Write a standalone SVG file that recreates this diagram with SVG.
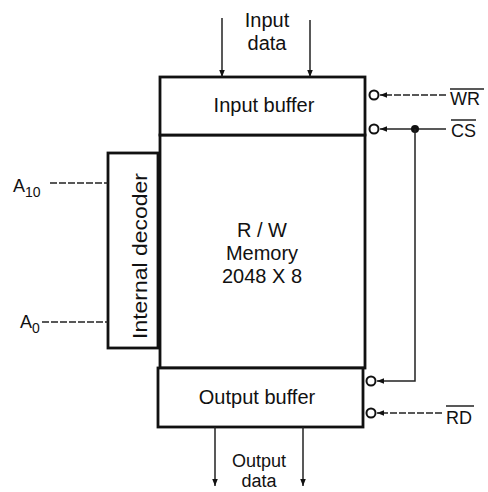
<svg xmlns="http://www.w3.org/2000/svg" width="488" height="492" viewBox="0 0 488 492">
<defs>
<style>
.box{fill:#fff;stroke:#111;stroke-width:2.8}
.ln{stroke:#222;stroke-width:1.5;fill:none}
.ds{stroke:#222;stroke-width:1.5;fill:none;stroke-dasharray:7 2}
.bub{fill:#fff;stroke:#111;stroke-width:2}
text{font-family:"Liberation Sans",Arial,sans-serif;font-size:20px;fill:#111}
.c{text-anchor:middle}
.s{font-size:18px}
</style>
<marker id="ah" viewBox="0 0 10 10" refX="10" refY="5" markerWidth="7" markerHeight="8" markerUnits="userSpaceOnUse" orient="auto">
<path d="M0,1 L10,5 L0,9 Z" fill="#111"/>
</marker>
</defs>
<rect width="488" height="492" fill="#fff"/>
<g id="memory">
<rect class="box" x="160" y="135" width="205" height="233"/>
<text class="c" x="262" y="237">R / W</text>
<text class="c" x="262" y="260">Memory</text>
<text class="c" x="262" y="283">2048 X 8</text>
</g>
<g id="input-buffer">
<rect class="box" x="160" y="77" width="205" height="58"/>
<text class="c" x="264" y="112">Input buffer</text>
</g>
<g id="output-buffer">
<rect class="box" x="158" y="368" width="205" height="59"/>
<text class="c" x="257" y="404">Output buffer</text>
</g>
<g id="decoder">
<rect class="box" x="108" y="153" width="50" height="195"/>
<text class="c" transform="translate(147,256) rotate(-90)" textLength="166" lengthAdjust="spacingAndGlyphs">Internal decoder</text>
</g>
<g id="labels">
<text class="c" x="267" y="27">Input</text>
<text class="c" x="267" y="50">data</text>
<text class="c s" x="259" y="467">Output</text>
<text class="c s" x="259" y="487">data</text>
<text class="s" x="13" y="192">A<tspan font-size="14" dy="5">10</tspan></text>
<text class="s" x="20" y="328">A<tspan font-size="14" dy="5">0</tspan></text>
<text class="s" x="450" y="105">WR</text>
<line class="ln" x1="450" y1="89" x2="484" y2="89"/>
<text class="s" x="451" y="137">CS</text>
<line class="ln" x1="451" y1="120" x2="476" y2="120"/>
<text class="s" x="446" y="424">RD</text>
<line class="ln" x1="446" y1="406" x2="474" y2="406"/>
</g>
<g id="connectors">
<line class="ln" x1="222" y1="18" x2="222" y2="77" marker-end="url(#ah)"/>
<line class="ln" x1="310" y1="20" x2="310" y2="77" marker-end="url(#ah)"/>
<line class="ln" x1="215" y1="427" x2="215" y2="486" marker-end="url(#ah)"/>
<line class="ln" x1="303" y1="427" x2="303" y2="486" marker-end="url(#ah)"/>
<line class="ds" x1="50" y1="183" x2="108" y2="183"/>
<line class="ds" x1="42" y1="322" x2="108" y2="322"/>
<line class="ds" x1="446" y1="95" x2="380" y2="95" marker-end="url(#ah)"/>
<line class="ln" x1="446" y1="129" x2="380" y2="129" marker-end="url(#ah)"/>
<circle cx="415" cy="129" r="4" fill="#111"/>
<polyline class="ln" points="415,129 415,381 377,381" marker-end="url(#ah)"/>
<line class="ds" x1="442" y1="413" x2="377" y2="413" marker-end="url(#ah)"/>
<circle class="bub" cx="374" cy="95" r="4.5"/>
<circle class="bub" cx="374" cy="129" r="4.5"/>
<circle class="bub" cx="371" cy="381" r="4.5"/>
<circle class="bub" cx="371" cy="413" r="4.5"/>
</g>
</svg>
